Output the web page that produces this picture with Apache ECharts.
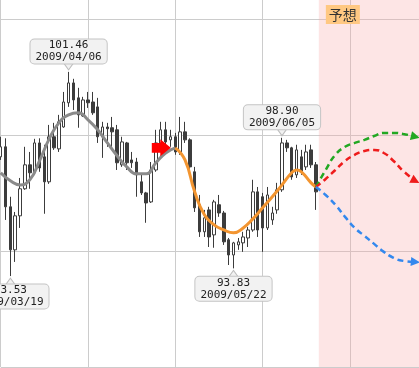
<!DOCTYPE html>
<html>
<head>
<meta charset="utf-8">
<script src="https://cdn.jsdelivr.net/npm/echarts@6/dist/echarts.min.js"></script>
<style>
  html, body { margin: 0; padding: 0; background: #fff; }
  #chart { width: 419px; height: 368px; }
</style>
</head>
<body>
<div id="chart"></div>
<script>
// ---- data ----
const dates = [
  '2009/03/17','2009/03/18','2009/03/19','2009/03/20','2009/03/23','2009/03/24','2009/03/25','2009/03/26','2009/03/27','2009/03/30',
  '2009/03/31','2009/04/01','2009/04/02','2009/04/03','2009/04/06','2009/04/07','2009/04/08','2009/04/09','2009/04/10','2009/04/13',
  '2009/04/14','2009/04/15','2009/04/16','2009/04/17','2009/04/20','2009/04/21','2009/04/22','2009/04/23','2009/04/24','2009/04/27',
  '2009/04/28','2009/04/29','2009/04/30','2009/05/01','2009/05/04','2009/05/05','2009/05/06','2009/05/07','2009/05/08','2009/05/11',
  '2009/05/12','2009/05/13','2009/05/14','2009/05/15','2009/05/18','2009/05/19','2009/05/20','2009/05/21','2009/05/22','2009/05/25',
  '2009/05/26','2009/05/27','2009/05/28','2009/05/29','2009/06/01','2009/06/02','2009/06/03','2009/06/04','2009/06/05','2009/06/08',
  '2009/06/09','2009/06/10','2009/06/11','2009/06/12','2009/06/15','2009/06/16'
];
const opens = [
  98.16, 98.55, 96.22, 94.55, 95.87, 96.92, 97.85, 97.54, 98.70, 98.16,
  97.19, 98.94, 98.47, 99.32, 100.26, 101.03, 100.45, 99.75, 100.37, 100.29,
  100.10, 98.94, 99.32, 99.29, 99.21, 97.85, 98.70, 98.04, 97.96, 97.19,
  96.76, 96.41, 97.65, 98.70, 99.21, 98.82, 98.94, 98.35, 99.13, 98.82,
  97.58, 96.30, 95.25, 96.10, 95.13, 96.30, 95.98, 94.94, 94.35, 94.74,
  94.82, 95.01, 95.32, 96.80, 96.61, 95.40, 95.71, 96.10, 96.88, 98.70,
  98.51, 97.46, 98.16, 97.77, 98.43, 97.85
];
const closes = [
  98.55, 96.22, 94.55, 95.87, 96.92, 97.85, 97.54, 98.70, 97.73, 97.19,
  98.94, 98.51, 99.52, 100.29, 101.03, 100.37, 99.79, 100.37, 100.26, 99.87,
  98.94, 99.32, 99.25, 99.13, 97.93, 98.74, 97.93, 97.93, 97.46, 96.76,
  96.37, 97.65, 98.70, 99.21, 98.74, 98.94, 98.35, 99.13, 98.82, 97.77,
  96.18, 95.25, 95.79, 95.05, 96.41, 95.98, 94.86, 94.35, 94.82, 94.86,
  95.05, 95.32, 96.80, 95.32, 95.40, 96.68, 95.98, 96.88, 98.70, 98.51,
  97.38, 98.43, 97.58, 98.35, 97.85, 96.80
];
const lows = [
  98.04, 95.71, 93.53, 94.08, 95.40, 96.88, 96.92, 97.46, 97.58, 95.95,
  97.11, 98.43, 98.35, 99.29, 100.10, 99.98, 99.29, 99.71, 100.06, 99.79,
  98.70, 98.12, 98.55, 98.51, 97.65, 97.77, 97.65, 97.73, 96.61, 96.68,
  95.60, 96.37, 97.58, 98.63, 98.63, 98.55, 98.24, 98.24, 98.70, 97.58,
  96.02, 95.05, 95.05, 94.66, 94.63, 95.83, 94.74, 93.96, 93.83, 94.55,
  94.47, 94.66, 95.25, 95.05, 94.47, 95.32, 95.52, 95.95, 96.80, 98.35,
  97.27, 97.34, 97.46, 97.65, 97.73, 96.10
];
const highs = [
  98.94, 98.88, 96.61, 96.02, 97.34, 98.55, 98.35, 98.86, 98.88, 98.63,
  99.40, 99.48, 99.79, 100.68, 101.46, 101.19, 100.84, 100.49, 100.68, 100.68,
  100.45, 99.52, 99.48, 99.71, 99.40, 98.94, 98.74, 98.35, 98.12, 97.46,
  96.80, 97.96, 99.21, 99.52, 99.52, 99.21, 99.09, 99.71, 99.52, 98.88,
  97.77, 96.68, 96.10, 96.22, 96.49, 96.68, 96.06, 95.01, 94.86, 95.01,
  95.25, 95.44, 97.27, 96.99, 96.76, 96.99, 96.22, 97.15, 98.90, 98.82,
  98.55, 98.63, 98.43, 98.63, 98.63, 97.96
];
// past trend (grey) and current trend (orange), by candle index
const pastIdx  = [0, 2, 4, 6, 8, 10, 12, 14, 16, 18, 20, 22, 24, 26, 28, 30, 32, 34, 36];
const pastVals = [97.54, 97.23, 97.07, 97.27, 98.00, 98.86, 99.48, 99.79, 99.87, 99.60,
                  99.21, 98.70, 98.20, 97.77, 97.50, 97.50, 97.93, 98.31, 98.51];
const nowIdx  = [36, 38, 40, 42, 44, 46, 48, 50, 52, 54, 56, 58, 60, 61, 62, 64, 65];
const nowVals = [98.51, 98.04, 96.80, 95.91, 95.52, 95.32, 95.21, 95.40, 95.75, 96.18,
                 96.61, 97.07, 97.54, 97.65, 97.58, 97.15, 96.99];
// forecast scenarios
const fcIdx   = [65, 67, 69, 71, 73, 75, 77, 79, 81, 83, 85.5];
const fcUp    = [96.99, 97.65, 98.24, 98.55, 98.70, 98.82, 98.97, 99.09, 99.09, 99.05, 98.94];
const fcMid   = [96.99, 97.30, 97.65, 98.00, 98.24, 98.39, 98.43, 98.31, 98.00, 97.61, 97.23];
const fcDown  = [96.99, 96.68, 96.30, 95.83, 95.40, 95.09, 94.78, 94.47, 94.24, 94.12, 94.08];
const forecastStart = 65.6;
const forecastLabel = '予想';
const peakIdx = [14, 58];
const troughIdx = [48, 2];
const xMax = 86.25;   // index at right edge
const yMin = 90, yMax = 104.25, yStep = 4.5;

// ---- chart ----
const chart = echarts.init(document.getElementById('chart'), null, { renderer: 'canvas' });

const candles = dates.map((d, i) => [i, opens[i], closes[i], lows[i], highs[i]]);
const pair = (xs, ys) => xs.map((x, i) => [x, ys[i]]);

const boxLabel = {
  show: true,
  formatter: p => Number(p.value).toFixed(2) + '\n' + p.name,
  fontFamily: 'DejaVu Sans Mono',
  fontSize: 11,
  lineHeight: 12,
  color: '#222',
  backgroundColor: '#f2f2f2',
  borderColor: '#c4c4c4',
  borderWidth: 1,
  borderRadius: 4,
  padding: [0, 5],
  align: 'center'
};
const downTri = 'path://M0,0 L10,0 L5,7 Z';
const upTri = 'path://M5,0 L10,7 L0,7 Z';
const notePoints = [];
peakIdx.forEach(i => notePoints.push({
  coord: [i, highs[i]], value: highs[i], name: dates[i],
  symbol: downTri, symbolOffset: [0, -5.5],
  label: { position: 'top', distance: -1 }
}));
troughIdx.forEach(i => notePoints.push({
  coord: [i, lows[i]], value: lows[i], name: dates[i],
  symbol: upTri, symbolOffset: [0, 5.5],
  label: { position: 'bottom', distance: -1 }
}));

function forecastSeries(vals, color, rot) {
  const data = pair(fcIdx, vals).map((v, i, arr) =>
    i === arr.length - 1
      ? { value: v, symbol: 'triangle', symbolSize: [9, 9], symbolRotate: rot, itemStyle: { color: color } }
      : { value: v, symbol: 'none' });
  return {
    type: 'line', data: data, smooth: 0.5, symbol: 'none', showSymbol: true, showAllSymbol: true,
    lineStyle: { color: color, width: 2.5, type: [6, 4] },
    itemStyle: { color: color }, z: 4, silent: true
  };
}

chart.setOption({
  animation: false,
  backgroundColor: '#ffffff',
  grid: { left: 0.7, right: 0, top: 0, bottom: 1 },
  xAxis: {
    type: 'value', min: 0, max: xMax, interval: 18,
    axisLine: { show: false }, axisTick: { show: false }, axisLabel: { show: false },
    splitLine: { show: true, showMaxLine: false, lineStyle: { color: '#cccccc', width: 1 } }
  },
  yAxis: {
    type: 'value', min: yMin, max: yMax, interval: yStep,
    axisLine: { show: false }, axisTick: { show: false }, axisLabel: { show: false },
    splitLine: { show: true, showMaxLine: false, lineStyle: { color: '#cccccc', width: 1 } }
  },
  series: [
    {
      type: 'candlestick',
      data: candles,
      encode: { x: 0, y: [1, 2, 3, 4] },
      barWidth: 3,
      itemStyle: {
        color: '#ffffff', color0: '#3c3c3c',
        borderColor: '#3c3c3c', borderColor0: '#3c3c3c', borderWidth: 1
      },
      markArea: {
        silent: true,
        itemStyle: { color: 'rgba(250,170,170,0.3)' },
        label: {
          show: true, position: [7, 5], formatter: forecastLabel,
          fontFamily: 'Noto Sans CJK JP', fontSize: 14, lineHeight: 15, color: '#333',
          backgroundColor: '#ffc882', padding: [2, 3]
        },
        data: [[{ xAxis: forecastStart, yAxis: yMax }, { xAxis: xMax, yAxis: yMin }]]
      },
      markPoint: {
        symbolSize: [10, 7],
        itemStyle: { color: '#f2f2f2', borderColor: '#bdbdbd', borderWidth: 1 },
        label: boxLabel,
        data: notePoints
      }
    },
    {
      type: 'line', data: pair(pastIdx, pastVals), smooth: 0.5, symbol: 'none',
      lineStyle: { color: '#8a8a8a', width: 3 }, z: 3,
      markPoint: {
        data: [{
          coord: [pastIdx[pastIdx.length - 1], pastVals[pastVals.length - 1]],
          symbol: 'path://M0,3.7 L8.5,3.7 L8.5,0 L19,8.5 L8.5,17 L8.5,13.3 L0,13.3 Z',
          symbolSize: [19, 17], symbolOffset: [-14, 0],
          itemStyle: { color: '#ff0000' }, label: { show: false }
        }]
      }
    },
    {
      type: 'line', data: pair(nowIdx, nowVals), smooth: 0.5, symbol: 'none',
      lineStyle: { color: '#f39530', width: 3 }, z: 3
    },
    forecastSeries(fcUp, '#22a822', -104),
    forecastSeries(fcMid, '#ee1c1c', -118),
    forecastSeries(fcDown, '#3388ee', -95)
  ]
});
</script>
</body>
</html>
